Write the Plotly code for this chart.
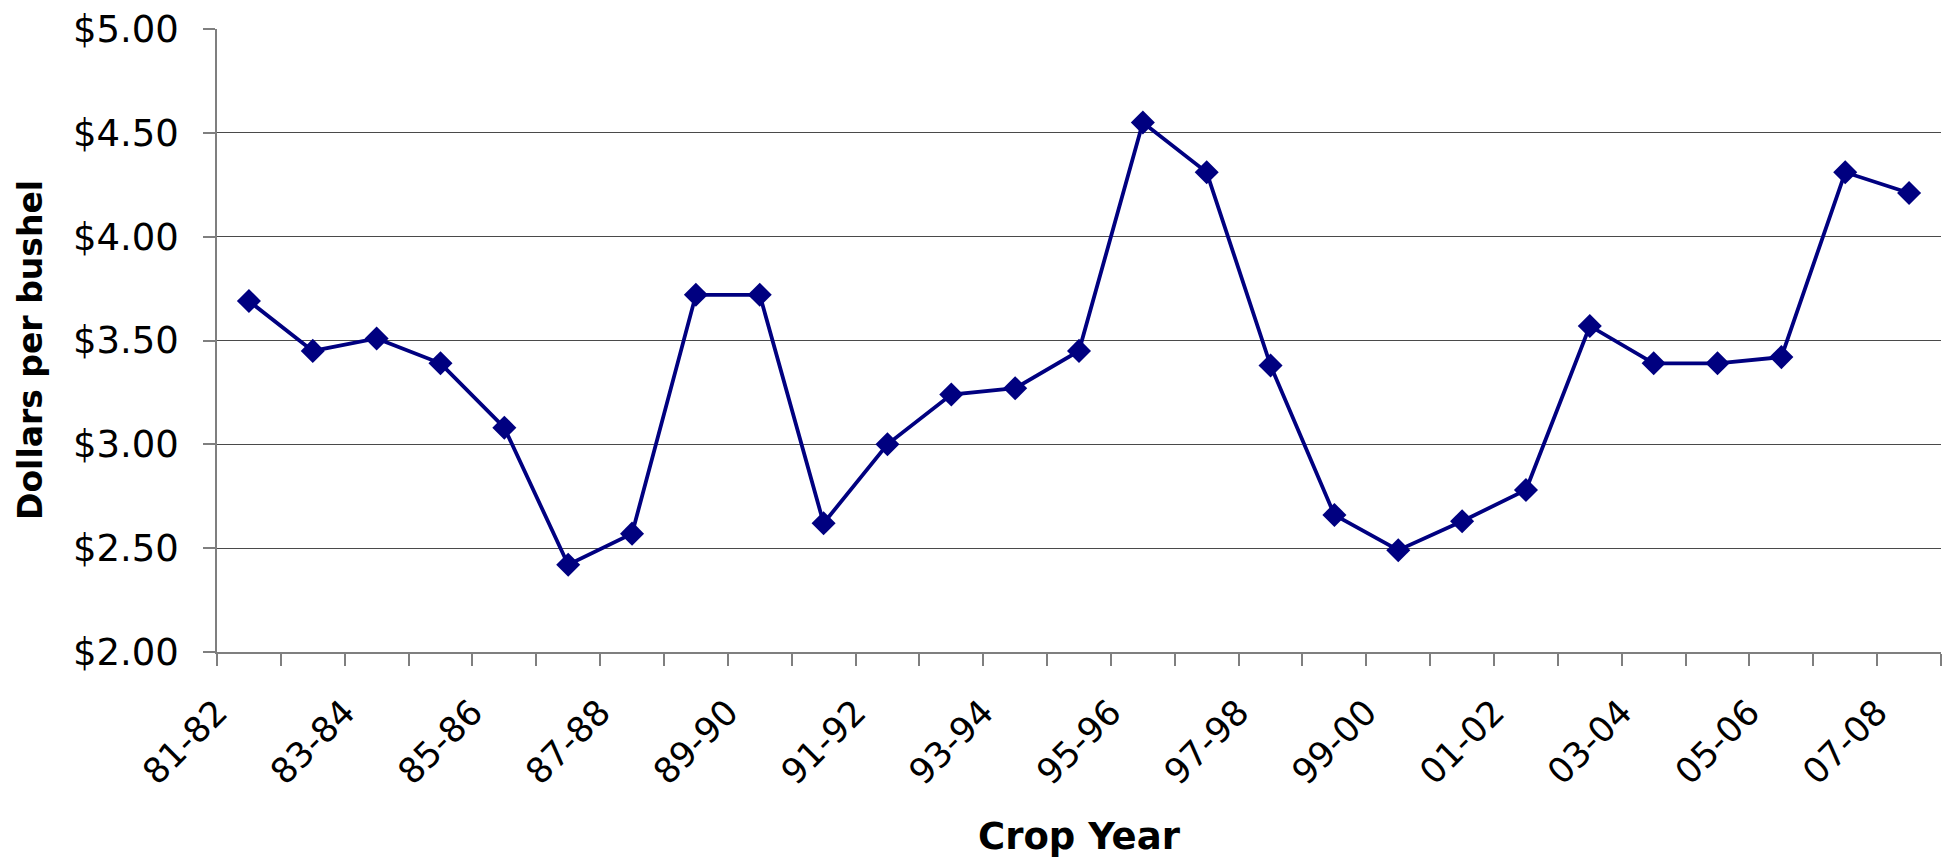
import plotly.graph_objects as go

crop_years = ["81-82", "82-83", "83-84", "84-85", "85-86", "86-87", "87-88",
              "88-89", "89-90", "90-91", "91-92", "92-93", "93-94", "94-95",
              "95-96", "96-97", "97-98", "98-99", "99-00", "00-01", "01-02",
              "02-03", "03-04", "04-05", "05-06", "06-07", "07-08"]
prices = [3.69, 3.45, 3.51, 3.39, 3.08, 2.42, 2.57, 3.72, 3.72, 2.62, 3.00,
          3.24, 3.27, 3.45, 4.55, 4.31, 3.38, 2.66, 2.49, 2.63, 2.78, 3.57,
          3.39, 3.39, 3.42, 4.31, 4.21]
y_tick_values = [2.0, 2.5, 3.0, 3.5, 4.0, 4.5, 5.0]
y_tick_labels = ["$2.00", "$2.50", "$3.00", "$3.50", "$4.00", "$4.50", "$5.00"]
grid_values = [2.5, 3.0, 3.5, 4.0, 4.5]
x_title = "Crop Year"
y_title = "Dollars per bushel"

n = len(crop_years)
idx = list(range(n))
FONT = "DejaVu Sans"
AXC = "#7f7f7f"

fig = go.Figure()
# invisible copy on the overlaying axis that carries the tick labels
fig.add_trace(go.Scatter(
    x=idx, y=prices, yaxis="y2", mode="lines",
    line=dict(color="rgba(0,0,0,0)", width=0),
    showlegend=False, hoverinfo="skip",
))
fig.add_trace(go.Scatter(
    x=idx, y=prices, mode="lines+markers",
    line=dict(color="#000080", width=3.8),
    marker=dict(symbol="diamond", size=18.5, color="#000080",
                line=dict(width=0)),
    showlegend=False, hoverinfo="x+y",
))

label_idx = idx[::2]
fig.update_layout(
    width=1950, height=859,
    margin=dict(l=217, r=9, t=29, b=207),
    paper_bgcolor="white", plot_bgcolor="white",
    font=dict(family=FONT, color="black"),
    xaxis=dict(
        range=[-0.5, n - 0.5],
        tickmode="array",
        tickvals=[i - 0.5 for i in label_idx],
        ticktext=[crop_years[i] for i in label_idx],
        tickangle=-45,
        tickfont=dict(family=FONT, size=35, color="black"),
        ticks="outside", ticklen=12, tickwidth=1.5, tickcolor=AXC,
        ticklabelstandoff=12,
        showline=True, linecolor=AXC, linewidth=1.5,
        showgrid=False, zeroline=False,
        minor=dict(tickmode="array",
                   tickvals=[i + 0.5 for i in label_idx],
                   ticks="outside", ticklen=12, tickwidth=1.5,
                   tickcolor=AXC, showgrid=False),
    ),
    yaxis=dict(
        range=[2, 5],
        tickmode="array", tickvals=grid_values,
        showticklabels=False, ticks="",
        showgrid=True, gridcolor="#4a4a4a", gridwidth=1.3,
        zeroline=False, showline=False,
    ),
    yaxis2=dict(
        overlaying="y", side="left", anchor="x",
        range=[2, 5],
        tickmode="array", tickvals=y_tick_values, ticktext=y_tick_labels,
        tickfont=dict(family=FONT, size=37, color="black"),
        ticks="outside", ticklen=12, tickwidth=1.5, tickcolor=AXC,
        ticklabelstandoff=17,
        showline=True, linecolor=AXC, linewidth=1.5,
        showgrid=False, zeroline=False,
    ),
    annotations=[
        dict(text=x_title, xref="paper", yref="paper",
             x=0.5, y=-(836 - 652) / 623, xanchor="center", yanchor="middle",
             showarrow=False,
             font=dict(family=FONT, size=37, color="black", weight="bold")),
        dict(text=y_title, xref="paper", yref="paper", textangle=-90,
             x=(30 - 217) / 1724, y=(652 - 350) / 623,
             xanchor="center", yanchor="middle", showarrow=False,
             font=dict(family=FONT, size=33, color="black", weight="bold")),
    ],
)

fig.write_html("out.html", config={"displayModeBar": False},
               post_script="document.body.style.margin='0';document.body.style.overflow='hidden';")
